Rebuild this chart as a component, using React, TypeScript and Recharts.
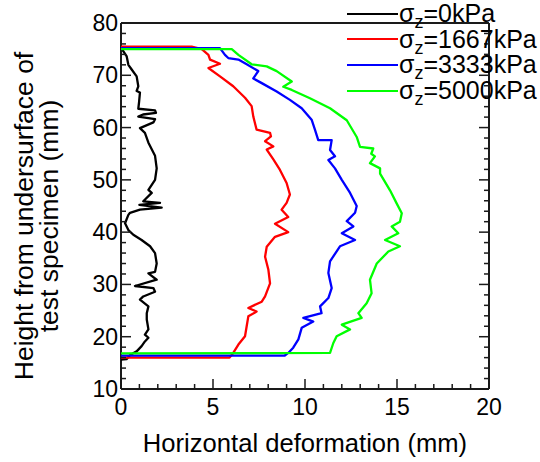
import React from 'react';
import { ScatterChart, Scatter, XAxis, YAxis, Legend, Label } from 'recharts';

// ---------- data ----------
const xMajorTicks = [0, 5, 10, 15, 20];
const xAllTicks = [0, 1, 2, 3, 4, 5, 6, 7, 8, 9, 10, 11, 12, 13, 14, 15, 16, 17, 18, 19, 20];
const yMajorTicks = [10, 20, 30, 40, 50, 60, 70, 80];
const yAllTicks = [10, 12, 14, 16, 18, 20, 22, 24, 26, 28, 30, 32, 34, 36, 38, 40, 42, 44, 46, 48, 50, 52, 54, 56, 58, 60, 62, 64, 66, 68, 70, 72, 74, 76, 78, 80];

const pressures = ['0', '1667', '3333', '5000'];
const colors = ['#000000', '#ff0000', '#0000ff', '#00ff00'];

// [horizontal deformation (mm), height (mm)]
const curve0: [number, number][] = [
  [0.0, 75.2], [0.07, 74.9], [0.31, 73.6], [0.4, 72.0], [0.58, 71.1], [0.85, 69.8], [0.94, 67.9], [0.85, 67.0],
  [1.03, 66.7], [0.98, 64.8], [0.94, 63.6], [1.85, 63.3], [1.9, 62.8], [1.2, 62.5], [0.94, 62.1], [1.85, 61.6],
  [1.76, 61.0], [1.03, 59.9], [1.3, 59.0], [1.49, 57.1], [1.85, 54.6], [1.94, 52.2], [1.85, 50.0], [1.49, 48.1],
  [1.67, 47.5], [1.21, 45.9], [2.12, 45.6], [1.0, 45.2], [2.21, 44.7], [1.03, 44.3], [0.49, 43.7], [0.4, 43.3],
  [0.22, 41.7], [0.4, 40.4], [0.67, 39.5], [1.12, 38.5], [1.58, 37.3], [1.85, 36.0], [1.94, 34.0], [1.85, 32.4],
  [1.49, 32.1], [1.94, 30.9], [0.76, 29.7], [1.76, 29.3], [1.85, 28.6], [1.21, 27.7], [1.03, 27.1], [1.49, 25.8],
  [1.4, 24.5], [1.4, 23.3], [1.49, 21.4], [1.3, 20.4], [1.49, 19.8], [1.3, 19.1], [1.12, 18.2], [0.85, 17.2],
  [0.5, 16.5], [0.3, 15.7], [0.0, 15.6],
];

const curve1667: [number, number][] = [
  [0, 75.5], [3.84, 75.5], [4.39, 75.0], [4.75, 73.9], [4.84, 73.0], [5.38, 72.2], [4.75, 71.4], [5.38, 69.8],
  [6.1, 67.9], [6.74, 65.7], [7.1, 64.1], [7.19, 62.1], [7.37, 59.6], [8.1, 59.0], [8.15, 58.3], [7.83, 57.4],
  [8.28, 56.4], [7.92, 55.8], [8.28, 53.9], [8.64, 51.9], [9.0, 49.4], [9.18, 47.2], [9.0, 45.6], [8.73, 44.3],
  [9.09, 42.9], [8.37, 41.6], [9.09, 40.0], [8.37, 39.1], [7.92, 37.2], [7.83, 35.3], [8.01, 32.8], [8.1, 30.2],
  [7.83, 27.7], [7.65, 26.7], [6.92, 25.5], [7.37, 24.8], [6.92, 23.9], [6.83, 22.0], [6.74, 20.1], [6.38, 18.5],
  [6.1, 16.9], [5.9, 16.0], [0, 16.0],
];

const curve3333: [number, number][] = [
  [0, 75.2], [5.38, 75.2], [5.65, 73.9], [5.83, 73.3], [6.38, 73.0], [6.83, 72.1], [7.46, 70.8], [7.19, 69.4],
  [7.65, 68.5], [8.46, 66.9], [9.18, 65.3], [9.82, 63.7], [10.36, 61.5], [10.54, 59.6], [10.72, 57.6], [11.45, 57.6],
  [11.36, 55.7], [11.63, 54.5], [11.27, 53.8], [11.63, 52.2], [12.0, 50.0], [12.45, 47.5], [12.81, 45.0], [12.72, 43.7],
  [12.27, 42.1], [12.63, 41.1], [12.0, 39.8], [12.72, 38.5], [11.9, 37.3], [11.36, 34.4], [11.27, 32.2], [11.45, 29.3],
  [11.27, 27.4], [10.82, 25.8], [10.9, 24.5], [9.91, 23.6], [10.45, 22.9], [9.82, 21.7], [9.64, 19.5], [9.36, 17.9],
  [9.09, 16.9], [8.9, 16.4], [0, 16.4],
];

const curve5000: [number, number][] = [
  [0, 75.0], [6.02, 75.0], [6.38, 73.9], [7.1, 72.1], [7.92, 71.7], [8.46, 70.8], [9.28, 68.8], [8.82, 67.8],
  [9.28, 67.2], [10.27, 65.6], [11.36, 63.7], [12.27, 61.4], [12.81, 58.2], [12.99, 56.3], [13.71, 56.0], [13.6, 55.0],
  [13.8, 54.5], [13.53, 53.2], [14.08, 52.2], [14.08, 51.2], [14.62, 48.0], [14.98, 45.5], [15.26, 43.6], [15.16, 42.0],
  [14.71, 41.1], [15.07, 39.8], [14.35, 38.5], [15.16, 37.3], [14.53, 36.3], [13.9, 34.0], [13.53, 30.9], [13.62, 28.3],
  [13.35, 26.4], [12.9, 24.5], [13.08, 23.6], [12.0, 22.3], [12.45, 21.4], [11.72, 20.1], [11.54, 18.8], [11.36, 16.9],
  [0, 16.8],
];

const curves = [curve0, curve1667, curve3333, curve5000];

// ---------- styling helpers ----------
const FONT = '"Liberation Sans", Arial, Helvetica, sans-serif';
const MAJOR_LEN = 10;
const MINOR_LEN = 5;
const FRAME = '#1a1a1a';

const BottomTick = (p: any) => {
  const v = p.payload.value;
  const major = xMajorTicks.includes(v);
  return (
    <g>
      <line x1={p.x} x2={p.x} y1={p.y} y2={p.y - (major ? MAJOR_LEN : MINOR_LEN)} stroke={FRAME} strokeWidth={1.5} />
      {major && (
        <text x={p.x} y={p.y + 26} textAnchor="middle" fontSize={23} fontFamily={FONT} fill="#000">{v}</text>
      )}
    </g>
  );
};

const TopTick = (p: any) => {
  const v = p.payload.value;
  const major = xMajorTicks.includes(v);
  return <line x1={p.x} x2={p.x} y1={p.y} y2={p.y + (major ? MAJOR_LEN : MINOR_LEN)} stroke={FRAME} strokeWidth={1.5} />;
};

const LeftTick = (p: any) => {
  const v = p.payload.value;
  const major = yMajorTicks.includes(v);
  return (
    <g>
      <line x1={p.x} x2={p.x + (major ? MAJOR_LEN : MINOR_LEN)} y1={p.y} y2={p.y} stroke={FRAME} strokeWidth={1.5} />
      {major && (
        <text x={p.x - 3} y={p.y + 8} textAnchor="end" fontSize={23} fontFamily={FONT} fill="#000">{v}</text>
      )}
    </g>
  );
};

const RightTick = (p: any) => {
  const v = p.payload.value;
  const major = yMajorTicks.includes(v);
  return <line x1={p.x} x2={p.x - (major ? MAJOR_LEN : MINOR_LEN)} y1={p.y} y2={p.y} stroke={FRAME} strokeWidth={1.5} />;
};

const XTitle = (props: any) => {
  const vb = props.viewBox;
  return (
    <text x={vb.x + vb.width / 2} y={452} textAnchor="middle" fontSize={25.6} fontFamily={FONT} fill="#000">
      Horizontal deformation (mm)
    </text>
  );
};

const YTitle = (props: any) => {
  const vb = props.viewBox;
  const cy = vb.y + vb.height / 2 + 10;
  return (
    <g>
      <text x={33} y={cy} transform={`rotate(-90, 33, ${cy})`} textAnchor="middle" fontSize={26.5} fontFamily={FONT} fill="#000">
        Height from undersurface of
      </text>
      <text x={58} y={cy} transform={`rotate(-90, 58, ${cy})`} textAnchor="middle" fontSize={26.5} fontFamily={FONT} fill="#000">
        test specimen (mm)
      </text>
    </g>
  );
};

const ROW_H = 25.6;
const LINE_W = 51;

const LegendContent = (props: any) => {
  const payload = props.payload || [];
  return (
    <div style={{ position: 'relative', width: 193, height: 104, fontFamily: FONT, fontSize: 25, color: '#000' }}>
      {payload.map((entry: any, i: number) => (
        <div key={i} style={{ position: 'absolute', left: 0, top: i * ROW_H, width: 193, height: ROW_H }}>
          <div style={{ position: 'absolute', left: 0, top: ROW_H / 2 - 1, width: LINE_W, height: 0, borderTop: `2px solid ${entry.color}` }} />
          <div style={{ position: 'absolute', left: LINE_W + 1, top: 0, lineHeight: `${ROW_H}px`, whiteSpace: 'nowrap' }}>
            σ<span style={{ fontSize: 18, position: 'relative', top: 6 }}>z</span>={entry.value}kPa
          </div>
        </div>
      ))}
    </div>
  );
};

const NoShape = () => <g />;

export default function App() {
  return (
    <div style={{ position: 'absolute', left: 0, top: 0, width: 540, height: 462, background: '#fff' }}>
      <ScatterChart width={540} height={462} margin={{ top: 18, right: 41, bottom: 33, left: 61 }}>
        <XAxis
          xAxisId="b" type="number" dataKey="x" orientation="bottom" domain={[0, 20]} allowDataOverflow
          ticks={xAllTicks} interval={0} tickSize={0} tickMargin={0} tickLine={false} height={40}
          axisLine={{ stroke: FRAME, strokeWidth: 2 }} tick={<BottomTick />}
        >
          <Label content={<XTitle />} />
        </XAxis>
        <XAxis
          xAxisId="t" type="number" orientation="top" domain={[0, 20]} allowDataOverflow
          ticks={xAllTicks} interval={0} tickSize={0} tickMargin={0} tickLine={false} height={5}
          axisLine={{ stroke: FRAME, strokeWidth: 2 }} tick={<TopTick />}
        />
        <YAxis
          yAxisId="l" type="number" dataKey="y" orientation="left" domain={[10, 80]} allowDataOverflow
          ticks={yAllTicks} interval={0} tickSize={0} tickMargin={0} tickLine={false} width={60}
          axisLine={{ stroke: FRAME, strokeWidth: 2 }} tick={<LeftTick />}
        >
          <Label content={<YTitle />} />
        </YAxis>
        <YAxis
          yAxisId="r" type="number" orientation="right" domain={[10, 80]} allowDataOverflow
          ticks={yAllTicks} interval={0} tickSize={0} tickMargin={0} tickLine={false} width={10}
          axisLine={{ stroke: FRAME, strokeWidth: 2 }} tick={<RightTick />}
        />
        {curves.map((c, i) => (
          <Scatter
            key={pressures[i]}
            name={pressures[i]}
            xAxisId="b"
            yAxisId="l"
            data={c.map(([x, y]) => ({ x, y }))}
            fill={colors[i]}
            line={{ stroke: colors[i], strokeWidth: 2.3, strokeLinejoin: 'round' }}
            shape={<NoShape />}
            isAnimationActive={false}
          />
        ))}
        <Legend
          layout="horizontal" verticalAlign="middle" align="center"
          wrapperStyle={{ left: 347, top: 1, width: 193, height: 104 }}
          content={<LegendContent />}
        />
      </ScatterChart>
    </div>
  );
}
